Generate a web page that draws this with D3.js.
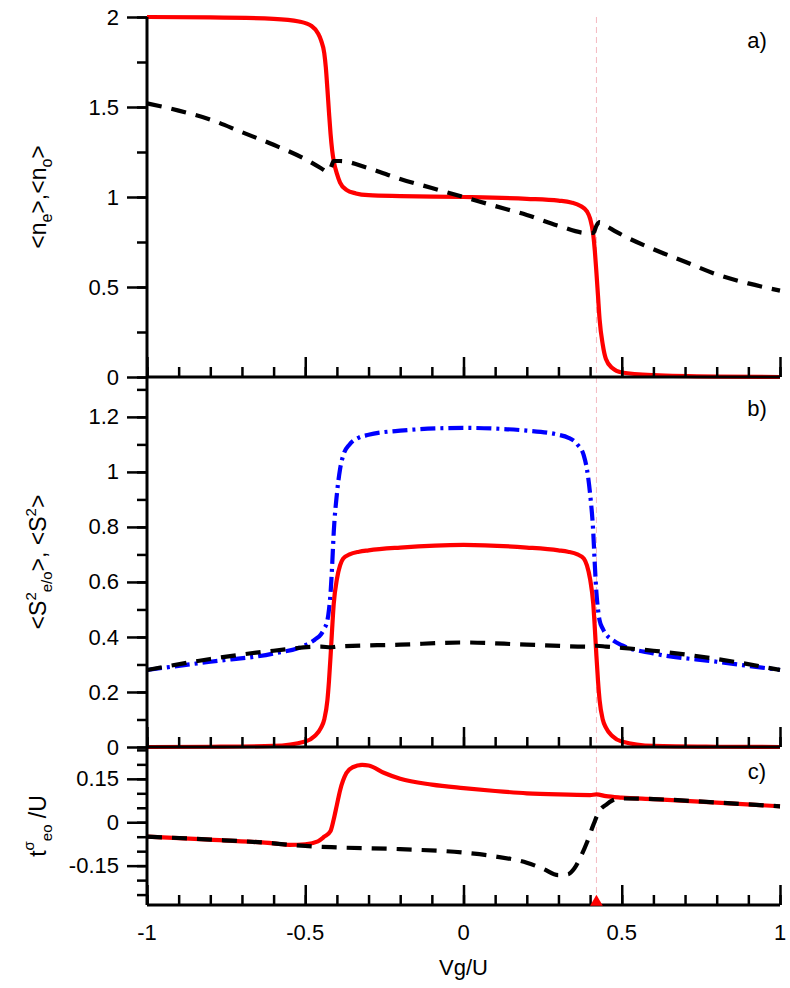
<!DOCTYPE html>
<html><head><meta charset="utf-8">
<script src="https://cdn.jsdelivr.net/npm/d3@7"></script>
<style>
body{margin:0;background:#fff}
text{font-family:"Liberation Sans",Arial,sans-serif;fill:#000}
</style></head><body>
<svg id="chart" width="790" height="988"></svg>
<script>
// panel a) occupation numbers
const aRedX = [-1,-0.8,-0.6,-0.52,-0.48,-0.46,-0.45,-0.44,-0.435,-0.43,-0.425,-0.42,-0.415,-0.41,-0.40,-0.39,-0.37,-0.34,-0.3,-0.2,0,0.2,0.3,0.34,0.37,0.39,0.40,0.41,0.415,0.42,0.425,0.43,0.44,0.45,0.47,0.5,0.6,0.8,1];
const aRedY = [2,1.998,1.99,1.975,1.95,1.91,1.87,1.8,1.72,1.6,1.47,1.35,1.26,1.2,1.13,1.08,1.04,1.02,1.01,1.005,1.0,0.99,0.98,0.97,0.95,0.92,0.88,0.79,0.7,0.58,0.45,0.32,0.18,0.1,0.05,0.025,0.01,0.002,0];
const aBlkX = [-1,-0.9,-0.8,-0.7,-0.6,-0.5,-0.45,-0.43,-0.42,-0.41,-0.39,-0.3,-0.2,-0.1,0,0.1,0.2,0.3,0.39,0.41,0.42,0.43,0.45,0.5,0.6,0.7,0.8,0.9,1];
const aBlkY = [1.52,1.48,1.43,1.36,1.29,1.21,1.16,1.14,1.16,1.2,1.2,1.16,1.1,1.05,1.0,0.95,0.9,0.84,0.8,0.8,0.84,0.86,0.84,0.79,0.71,0.64,0.57,0.52,0.48];

// panel b) local moments
const bX = [-1,-0.8,-0.6,-0.5,-0.47,-0.45,-0.44,-0.43,-0.425,-0.42,-0.415,-0.41,-0.40,-0.39,-0.38,-0.36,-0.33,-0.3,-0.2,0,0.2,0.3,0.33,0.36,0.38,0.39,0.40,0.41,0.415,0.42,0.425,0.43,0.44,0.45,0.47,0.5,0.6,0.8,1];
const bBlue = [0.28,0.31,0.34,0.37,0.39,0.41,0.43,0.46,0.5,0.56,0.66,0.78,0.92,1.01,1.06,1.1,1.125,1.135,1.15,1.16,1.15,1.135,1.125,1.1,1.06,1.01,0.92,0.78,0.66,0.56,0.5,0.46,0.43,0.41,0.39,0.37,0.34,0.31,0.28];
const bRed = [0,0.001,0.004,0.02,0.04,0.07,0.1,0.17,0.24,0.33,0.43,0.52,0.61,0.66,0.685,0.7,0.71,0.715,0.725,0.735,0.725,0.715,0.71,0.7,0.685,0.66,0.61,0.52,0.43,0.33,0.24,0.17,0.1,0.07,0.04,0.02,0.004,0.001,0];
const bBlkX = [-1,-0.8,-0.6,-0.45,-0.42,-0.4,-0.2,0,0.2,0.4,0.42,0.45,0.6,0.8,1];
const bBlkY = [0.28,0.32,0.35,0.365,0.362,0.365,0.372,0.38,0.372,0.365,0.368,0.365,0.35,0.32,0.28];

// panel c) hopping
const cRedX = [-1,-0.8,-0.6,-0.55,-0.5,-0.46,-0.44,-0.42,-0.41,-0.40,-0.39,-0.37,-0.35,-0.32,-0.3,-0.25,-0.2,-0.1,0,0.1,0.2,0.3,0.4,0.42,0.45,0.5,0.6,0.8,1];
const cRedY = [-0.05,-0.06,-0.073,-0.078,-0.076,-0.066,-0.05,-0.03,0.01,0.06,0.11,0.17,0.19,0.198,0.196,0.17,0.15,0.13,0.118,0.108,0.1,0.096,0.094,0.096,0.09,0.085,0.08,0.068,0.055];
const cBlkX = [-1,-0.8,-0.6,-0.55,-0.5,-0.4,-0.2,0,0.1,0.2,0.25,0.3,0.33,0.35,0.37,0.39,0.41,0.43,0.45,0.47,0.5,0.6,0.8,1];
const cBlkY = [-0.05,-0.06,-0.073,-0.078,-0.082,-0.087,-0.093,-0.105,-0.118,-0.14,-0.16,-0.183,-0.18,-0.16,-0.12,-0.07,-0.01,0.04,0.06,0.075,0.082,0.08,0.068,0.055];

const xTicks = [-1,-0.5,0,0.5,1];
const marker = 0.42;

const svg = d3.select("#chart");
const L = 147, R = 780;
const x = d3.scaleLinear().domain([-1,1]).range([L,R]);
const num = d => String(d);

const panels = [
  {top:17, bot:377, dom:[0,2], ticks:[0,0.5,1,1.5,2], minor:0.25, fmt:num, label:"a)", ly:48},
  {top:377, bot:747, dom:[0,1.345], ticks:[0,0.2,0.4,0.6,0.8,1,1.2], minor:0.1, fmt:num, label:"b)", ly:416},
  {top:747, bot:905, dom:[-0.286,0.26], ticks:[-0.15,0,0.15], minor:0.05, fmt:num, label:"c)", ly:779}
];
panels.forEach(p => p.y = d3.scaleLinear().domain(p.dom).range([p.bot,p.top]));

const line = (xs, ys, sy) => d3.line().curve(d3.curveMonotoneX).x((d,i)=>x(xs[i])).y(d=>sy(d))(ys);

function path(d, color, dash) {
  svg.append("path").attr("d", d).attr("fill","none").attr("stroke",color)
    .attr("stroke-width",4.2).attr("stroke-dasharray",dash||null).attr("stroke-linejoin","round");
}

// marker line
svg.append("line").attr("x1",x(marker)).attr("x2",x(marker)).attr("y1",17).attr("y2",905)
  .attr("stroke","#f4b8c0").attr("stroke-width",1).attr("stroke-dasharray","6,4");

const [pa,pb,pc] = panels;
path(line(aRedX,aRedY,pa.y),"#ff0000");
path(line(aBlkX,aBlkY,pa.y),"#000","15,10");
path(line(bX,bBlue,pb.y),"#0000ff","15,5,3,5");
path(line(bX,bRed,pb.y),"#ff0000");
path(line(bBlkX,bBlkY,pb.y),"#000","15,10");
path(line(cRedX,cRedY,pc.y),"#ff0000");
path(line(cBlkX,cBlkY,pc.y),"#000","15,10");

panels.forEach((p,k) => {
  // left axis, outward ticks
  const gy = svg.append("g").attr("transform",`translate(${L},0)`);
  gy.call(d3.axisLeft(p.y).tickValues(d3.range(Math.ceil(p.dom[0]/p.minor-1e-6), Math.floor(p.dom[1]/p.minor+1e-6)+1).map(i=>+(i*p.minor).toFixed(3))).tickSize(10).tickFormat(""));
  gy.call(g=>g.selectAll(".tick line").attr("stroke-width",2.5));
  const gm = svg.append("g").attr("transform",`translate(${L},0)`);
  gm.call(d3.axisLeft(p.y).tickValues(p.ticks).tickSize(20).tickPadding(8).tickFormat(p.fmt));
  gm.call(g=>g.selectAll(".tick line").attr("stroke-width",2.5));
  gm.selectAll("text").attr("font-size",22).attr("font-family","Liberation Sans");
  gy.select(".domain").remove();
  gm.select(".domain").attr("stroke-width",3).attr("d",`M0,${p.top}V${p.bot}`);
  // bottom axis, inward ticks
  const gx = svg.append("g").attr("transform",`translate(0,${p.bot})`);
  gx.call(d3.axisTop(x).tickValues(d3.range(-10,11).map(i=>i/10)).tickSize(10).tickFormat(""));
  gx.call(g=>g.selectAll(".tick line").attr("stroke-width",2.5));
  const gx2 = svg.append("g").attr("transform",`translate(0,${p.bot})`);
  gx2.call(d3.axisTop(x).tickValues(xTicks).tickSize(20).tickFormat(""));
  gx2.call(g=>g.selectAll(".tick line").attr("stroke-width",2.5));
  gx.select(".domain").attr("stroke-width",3).attr("d",`M${L},0H${R}`);
  gx2.select(".domain").remove();
  svg.append("text").attr("x",757).attr("y",p.ly).attr("text-anchor","middle").attr("font-size",22).text(p.label);
});

// x tick labels
svg.append("g").selectAll("text").data(xTicks).join("text")
  .attr("x",d=>x(d)).attr("y",940).attr("text-anchor","middle").attr("font-size",22)
  .text(num);
svg.append("text").attr("x",x(0)).attr("y",975).attr("text-anchor","middle").attr("font-size",22).text("Vg/U");

// red triangle marker
svg.append("path").attr("d",d3.symbol(d3.symbolTriangle,70)())
  .attr("transform",`translate(${x(marker)},${902})`).attr("fill","#ff0000");

// y labels
function ylab(cx, cy, parts) {
  const t = svg.append("text").attr("transform",`translate(${cx},${cy}) rotate(-90)`)
    .attr("text-anchor","middle").attr("font-size",23);
  parts.forEach(([s,dy,fs]) => t.append("tspan").attr("dy",dy||0).attr("font-size",fs||23).text(s));
}
ylab(46,197,[["<n"],["e",6,16],[">,<n",-6],["o",6,16],[">",-6]]);
ylab(46,562,[["<S"],["2",-10,15],["e/o",16,15],[">, <S",-6],["2",-10,15],[">",10]]);
ylab(46,826,[["t"],["σ",-12,15],["eo",18,15],[" /U",-6]]);
</script>
</body></html>
